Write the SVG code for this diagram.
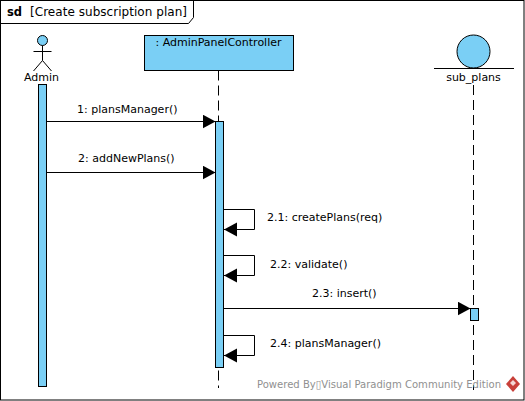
<svg xmlns="http://www.w3.org/2000/svg" width="525" height="401" viewBox="0 0 525 401">
<defs>
<style>
text{font-family:"DejaVu Sans",sans-serif;font-size:11px;fill:#000}
.box{fill:#7acff5;stroke:#000;stroke-width:1}
.line{fill:none;stroke:#000;stroke-width:1}
.life{fill:none;stroke:#000;stroke-width:1;stroke-dasharray:10 5}
</style>
<marker id="arrow" markerUnits="userSpaceOnUse" markerWidth="16" markerHeight="16" refX="13" refY="7" orient="auto"><path d="M0 0L13 7L0 14Z" fill="#000"/></marker>
</defs>
<rect width="525" height="401" fill="#fff"/>
<g id="frame">
<rect class="line" x="0.5" y="0.5" width="523.5" height="399.5"/>
<path class="line" d="M0.5 23.5H188.5L193.5 17.5V0.5"/>
<text x="7" y="16" style="font-weight:bold;font-size:11.5px">sd</text>
<text x="30" y="16" style="font-size:12px" textLength="157" lengthAdjust="spacing">[Create subscription plan]</text>
</g>
<g id="admin">
<circle class="box" cx="42.5" cy="40.5" r="5"/>
<path class="line" d="M42.5 45.5V60.5M33.5 51.5H51.5M33.5 71L42.5 60.5L51.5 71"/>
<text x="41.5" y="81" text-anchor="middle">Admin</text>
<rect class="box" x="38.5" y="84.5" width="8" height="302"/>
</g>
<g id="controller">
<path class="life" d="M218.5 70.5V388"/>
<rect class="box" x="144.5" y="35.5" width="149" height="35"/>
<text x="218.5" y="46" text-anchor="middle">: AdminPanelController</text>
<rect class="box" x="215.5" y="121.5" width="8" height="246"/>
</g>
<g id="sub_plans">
<path class="life" d="M473.5 85V390"/>
<circle class="box" cx="473.5" cy="51.5" r="16.5"/>
<path class="line" d="M434 68.5H514"/>
<text x="473.5" y="81" text-anchor="middle">sub_plans</text>
<rect class="box" x="470.5" y="308.5" width="8" height="12"/>
</g>
<g id="connectors">
<path class="line" d="M46 121.5H215.5" marker-end="url(#arrow)"/>
<path class="line" d="M46 172.5H215.5" marker-end="url(#arrow)"/>
<path class="line" d="M224 209.5H254.5V229.5H224" marker-end="url(#arrow)"/>
<path class="line" d="M224 255.5H254.5V275.5H224" marker-end="url(#arrow)"/>
<path class="line" d="M224 308.5H470.5" marker-end="url(#arrow)"/>
<path class="line" d="M224 335.5H254.5V355.5H224" marker-end="url(#arrow)"/>
</g>
<g id="labels">
<text x="77" y="113">1: plansManager()</text>
<text x="78" y="162">2: addNewPlans()</text>
<text x="267" y="221">2.1: createPlans(req)</text>
<text x="270" y="268">2.2: validate()</text>
<text x="312" y="297">2.3: insert()</text>
<text x="270" y="347">2.4: plansManager()</text>
</g>
<g id="watermark">
<text x="257" y="388" style="fill:#909090" textLength="244" lengthAdjust="spacingAndGlyphs">Powered By▯Visual Paradigm Community Edition</text>
<path d="M513 376L520 384L513 392L506 384Z" fill="#c8403a"/>
<path d="M513 380L516 383L513 386L510 383Z" fill="#f4d7d5"/>
</g>
</svg>
